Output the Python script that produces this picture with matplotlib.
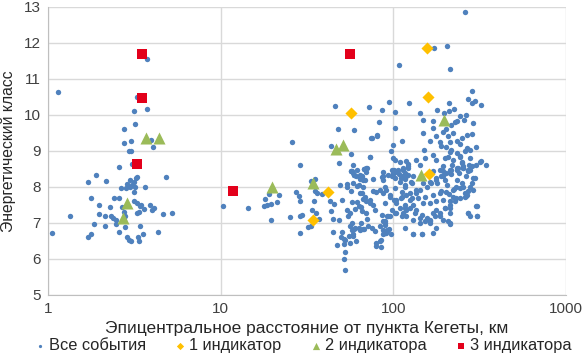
import matplotlib.pyplot as plt
from matplotlib.ticker import FixedLocator, NullLocator

plt.rcParams['font.family'] = ['Liberation Sans', 'DejaVu Sans']

# Все события: (расстояние, км; энергетический класс)
all_dist = [
    3.76, 1.15, 3.27, 3.14, 3.76, 3.19, 2.77, 3.02, 2.77, 3.97, 4.07, 2.93, 3.01,
    2.59, 3.06, 1.90, 1.70, 2.16, 2.98, 3.22, 3.27, 4.80, 3.14,
    2.65, 2.83, 2.98, 3.09, 3.19, 3.16, 3.66, 2.88, 1.77, 2.41, 2.57, 1.97, 2.28, 2.67,
    3.16, 3.30, 3.41, 3.48, 3.38, 3.29, 3.60, 3.89, 4.11, 4.00,
    1.35, 1.97, 2.14, 2.31, 2.37, 2.75, 2.80, 2.77, 2.47, 4.63, 5.23,
    1.85, 2.14, 2.49, 2.80, 3.42, 1.06, 1.71, 1.77, 2.59, 2.88, 3.01, 2.96,
    3.31, 3.36, 3.57, 4.32,
    108, 46.1, 72.5, 94, 86, 102, 123, 83, 103, 48, 59, 74.5, 80.4, 112, 25.9, 43.5,
    99.5, 97.5, 56.6, 73.2, 100, 103, 109, 122, 28.8, 48.4, 67.6, 70.2, 57.7, 59.3,
    65.6, 64.5, 66.5, 87, 76.6, 86, 101, 104, 108, 99.5, 102, 111, 117, 121, 35.2, 33.6,
    10.4, 14.5, 18.0, 19.1, 21.8, 17.8, 18.6, 19.7, 21.1, 19.6, 25.4, 28.8, 27.5, 28.5,
    29.0, 28.8, 29.8, 32.3, 33.6, 35.3, 36.0, 34.6, 34.0, 35.5, 37.1, 38.6,
    43.0, 45.3, 43.8, 45.0, 48.6, 50.4, 49.5, 53.7, 56.6, 58.6, 57.0, 58.9, 61.3, 63.9,
    67.5, 69.8, 68.6, 63.5, 44.6, 47.1, 52.2, 52.9, 52.2, 52.6,
    49.9, 52.6, 55.1, 58.1, 60.7, 59.3, 56.1, 57.6, 63.5, 66.9, 65.2, 80, 84.4, 84.4,
    70.6, 71.9, 75.5, 78.2, 83.6, 86.7, 89.8, 92.6, 94.3, 96.5, 89.1,
    58.6, 60.7, 61.9, 66.9, 66.3, 68.6, 73.2, 76.3, 78.2, 87.4, 89.5, 87.4, 97.8, 99, 76.3,
    80, 83.6, 95.5, 101, 104, 111, 117, 99, 91.8, 104, 119,
    61.3, 60.1, 64.9, 53.7, 54.6, 56.1, 65.6, 70.0,
    54.0, 57.4, 64.3, 67.1, 63.0, 70.0, 73.2, 56.7, 58.1, 64.3, 65.8, 70.0, 73.2, 80.1, 75.0,
    57.4, 60.1, 64.3, 67.5, 58.6, 56.1, 50.6, 51.8, 83.6, 80.0, 87.4, 91.8, 89.5, 93.6, 86.3,
    262, 172, 204, 213, 285, 272, 284, 298, 324, 211, 226, 180, 196, 211,
    143, 149, 170, 170, 243, 257, 263, 235, 290, 284, 266, 249, 235,
    148, 163, 178, 186, 190, 213, 193, 203, 217, 227, 222, 208,
    150, 136, 143, 152, 170, 177, 199, 215, 235, 266, 278, 324, 344, 119, 117, 122, 112,
    203, 213, 208, 222, 243, 249, 255, 272, 284, 195, 213, 233, 186, 170,
    114, 119, 127, 117, 112, 125, 136, 149, 163, 178, 195, 213, 233, 254, 278, 297, 290, 266,
    125, 139, 152, 170, 186, 203, 222, 243, 260, 195, 178, 163, 213, 222, 178, 199, 213,
    213, 170, 186, 195, 208, 213, 272, 278, 302, 304, 149, 131, 119, 114, 112, 131, 146,
    170, 178, 136, 146, 156, 163, 143, 131,
    87.4, 93.5, 100, 107, 114, 122, 131, 128, 117, 109, 102, 91.4, 95.5, 89.5, 104, 112,
    119, 128, 136, 143, 156, 166, 178, 190, 203, 217, 238, 255, 272, 290, 278, 260, 243,
    227, 213, 199, 186, 174, 163, 152, 143, 133, 125, 117, 109, 102, 95.5, 89.5, 87.4,
    91.4, 117, 131, 146, 163, 213, 304, 304, 272,
    230, 250, 265, 240, 220, 250, 280, 300, 270, 230, 210, 190, 180, 200, 260, 245,
    300, 320, 235, 255, 285, 215, 195, 225, 275, 245, 265, 205,
]
all_cls = [
    11.55, 10.63, 10.50, 10.11, 10.17, 9.76, 9.60, 9.28, 9.21, 9.30, 9.11, 9.00, 9.00,
    8.55, 8.65, 8.32, 8.14, 8.16, 8.20, 8.26, 8.28, 8.27, 8.13,
    7.98, 7.98, 8.01, 8.05, 8.01, 7.86, 8.00, 8.08, 7.68, 7.68, 7.68, 7.51, 7.43, 7.43,
    7.60, 7.55, 7.46, 7.50, 7.30, 7.27, 7.39, 7.50, 7.41, 7.36,
    7.20, 7.25, 7.20, 7.20, 7.13, 7.30, 7.20, 7.07, 7.09, 7.25, 7.27,
    6.96, 6.91, 6.98, 6.88, 6.92, 6.72, 6.60, 6.70, 6.75, 6.61, 6.49, 6.53,
    6.60, 6.50, 6.68, 6.76,
    11.38, 10.24, 10.22, 10.35, 10.14, 10.08, 10.33, 9.79, 9.63, 9.62, 9.59, 9.35, 9.42,
    9.27, 9.24, 9.13, 9.16, 8.99, 8.91, 8.83, 8.79, 8.75, 8.68, 8.63, 8.60, 8.67, 8.50,
    8.52, 8.44, 8.33, 8.30, 8.22, 8.19, 8.42, 8.22, 8.28, 8.48, 8.42, 8.36, 8.30, 8.24,
    8.26, 8.22, 8.32, 8.22, 8.17,
    7.47, 7.42, 7.66, 7.80, 7.77, 7.46, 7.50, 7.53, 7.58, 7.09, 7.16, 6.71, 7.85, 7.75,
    7.60, 7.18, 7.22, 6.90, 6.92, 7.90, 7.83, 7.61, 7.36, 7.27, 7.11, 7.81,
    7.61, 7.52, 7.32, 7.11, 7.09, 7.64, 8.05, 8.01, 7.90, 8.12, 8.43, 8.33, 8.47, 8.24,
    8.49, 8.41, 8.19, 8.05, 6.74, 6.38, 6.41, 6.18, 6.00, 5.69,
    6.62, 6.52, 6.65, 6.70, 6.49, 6.83, 6.92, 6.99, 6.87, 6.83, 7.00, 6.44, 6.52, 6.33,
    7.11, 6.92, 6.85, 6.77, 6.91, 7.04, 6.94, 6.77, 6.84, 6.68, 6.72,
    8.61, 8.29, 8.03, 8.01, 7.83, 7.73, 7.64, 7.50, 7.36, 7.83, 8.01, 8.19, 8.29, 8.47, 7.88,
    7.87, 7.92, 7.78, 7.64, 7.55, 7.69, 7.41, 7.36, 7.18, 7.27, 7.18,
    7.59, 7.40, 7.43, 7.36, 7.18, 7.27, 7.32, 7.27,
    8.08, 7.58, 7.82, 7.66, 7.46, 7.60, 7.55, 8.43, 8.38, 8.33, 8.24, 8.52, 8.84, 9.44, 9.35,
    6.81, 6.86, 6.81, 6.83, 6.63, 6.44, 6.74, 6.54, 6.49, 6.37, 6.68, 6.81, 7.00, 7.18, 7.23,
    12.86, 11.86, 11.91, 11.27, 10.66, 10.43, 10.34, 10.39, 10.27, 10.34, 10.16, 10.14, 10.05, 10.12,
    10.04, 9.87, 9.82, 9.64, 9.96, 9.87, 10.01, 9.82, 9.78, 9.46, 9.44, 9.35, 9.28,
    9.49, 9.28, 9.40, 9.25, 9.14, 9.25, 9.52, 9.61, 9.71, 9.80, 9.49, 9.40,
    9.03, 8.76, 8.62, 8.80, 8.89, 8.76, 8.80, 9.03, 8.94, 9.08, 9.03, 8.71, 8.62, 8.71, 8.39, 8.53, 8.29,
    9.12, 8.98, 8.84, 8.75, 8.84, 8.66, 8.52, 8.47, 8.57, 8.57, 8.47, 8.52, 8.47, 8.43,
    8.47, 8.29, 8.15, 8.06, 7.87, 7.83, 7.92, 8.10, 8.15, 8.19, 8.29, 8.38, 8.47, 8.52, 8.47, 8.24, 7.92, 7.78,
    7.64, 7.69, 7.73, 7.78, 7.83, 7.87, 7.92, 7.96, 7.73, 7.64, 7.60, 7.55, 7.60, 7.73, 7.36, 7.41, 7.41,
    7.27, 7.27, 7.18, 7.09, 7.04, 6.97, 7.27, 7.20, 7.47, 7.20, 7.55, 7.50, 7.36, 7.27, 7.18, 6.69, 6.70,
    6.72, 6.86, 7.36, 7.22, 7.13, 7.04, 7.00, 7.09,
    8.29, 8.33, 8.38, 8.47, 8.52, 8.57, 8.29, 8.10, 8.01, 8.15, 7.96, 7.92, 7.73, 7.55, 7.64, 7.73,
    7.78, 7.69, 7.83, 7.92, 8.01, 8.10, 8.24, 8.29, 8.38, 8.47, 8.52, 8.57, 8.43, 8.24, 8.01, 7.83, 7.69,
    7.60, 7.50, 7.41, 7.27, 7.18, 7.09, 7.04, 7.13, 7.27, 7.41, 7.50, 7.41, 7.27, 7.18, 7.04, 6.81,
    6.72, 6.86, 6.70, 6.70, 7.00, 7.00, 7.46, 7.18, 7.27,
    8.00, 8.10, 8.30, 8.40, 8.60, 8.70, 8.80, 8.60, 7.90, 7.70, 7.80, 7.90, 8.10, 8.20, 9.00, 9.20,
    9.10, 8.70, 8.20, 8.00, 8.10, 8.35, 8.45, 7.95, 8.60, 8.85, 7.75, 8.05,
]

ind1_dist = [57, 34.1, 41.7, 156, 159, 161]
ind1_cls = [10.04, 7.09, 7.85, 11.86, 10.49, 8.35]

ind2_dist = [3.7, 4.39, 2.86, 2.71, 19.9, 34.4, 46.5, 51.5, 197, 144]
ind2_cls = [9.35, 9.36, 7.55, 7.13, 8.01, 8.10, 9.05, 9.16, 9.86, 8.32]

ind3_dist = [3.5, 3.5, 3.26, 11.8, 56]
ind3_cls = [11.68, 10.47, 8.63, 7.90, 11.70]

fig = plt.figure(figsize=(5.84, 3.61), dpi=100)
ax = fig.add_axes([0.082, 0.183, 0.887, 0.798])

ax.scatter(all_dist, all_cls, s=15, marker='o', color='#4F81BD', linewidths=0,
           label='Все события', zorder=3)
ax.scatter(ind1_dist, ind1_cls, s=38, marker='D', color='#FFC000', linewidths=0,
           label='1 индикатор', zorder=4)
ax.scatter(ind2_dist, ind2_cls, s=75, marker='^', color='#9BBB59', linewidths=0,
           label='2 индикатора', zorder=5)
ax.scatter(ind3_dist, ind3_cls, s=50, marker='s', color='#E3001B', linewidths=0,
           label='3 индикатора', zorder=6)

ax.set_xscale('log')
ax.set_xlim(1, 1000)
ax.set_ylim(5, 13)
ax.xaxis.set_major_locator(FixedLocator([1, 10, 100, 1000]))
ax.xaxis.set_minor_locator(NullLocator())
ax.set_xticklabels(['1', '10', '100', '1000'])
ax.set_yticks(range(5, 14))

ax.grid(True, color='#D9D9D9', linewidth=1, zorder=0)
ax.set_axisbelow(True)
for side in ['top', 'right']:
    ax.spines[side].set_visible(False)
for side in ['left', 'bottom']:
    ax.spines[side].set_color('#BFBFBF')
ax.tick_params(length=0, labelsize=11, colors='#404040', pad=5)

ax.set_xlabel('Эпицентральное расстояние от пункта Кегеты, км', fontsize=12.5,
              color='#262626', labelpad=4)
ax.set_ylabel('Энергетический класс', fontsize=11.3, color='#262626', labelpad=6)

leg = fig.legend(loc='lower center', ncol=4, frameon=False, fontsize=11.8,
                 bbox_to_anchor=(0.516, -0.02), handletextpad=0.05, columnspacing=1.6,
                 handlelength=1.0, markerscale=0.6)
for t in leg.get_texts():
    t.set_color('#262626')

fig.savefig('out.png', dpi=100)
